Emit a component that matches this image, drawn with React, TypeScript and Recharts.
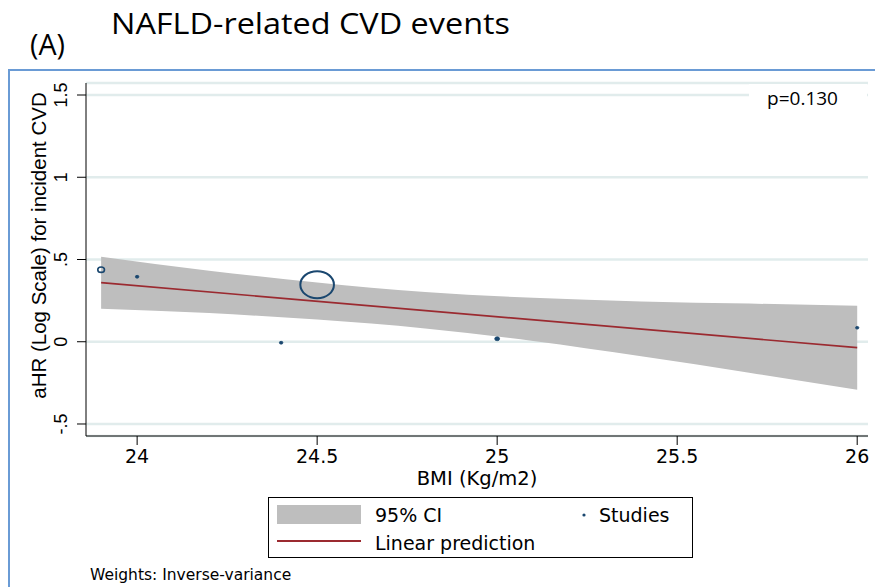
import React from 'react';
import { ComposedChart, Area, Line, Scatter, XAxis, YAxis, ZAxis, CartesianGrid } from 'recharts';

// 95% CI band of the meta-regression prediction
const bandBmi = [23.9, 24.2, 24.5, 24.8, 25.1, 25.4, 25.7, 26.0];
const ciLower = [0.201, 0.174, 0.135, 0.081, 0.005, -0.088, -0.188, -0.292];
const ciUpper = [0.517, 0.432, 0.360, 0.302, 0.267, 0.245, 0.232, 0.219];

// Linear prediction
const fitBmi = [23.9, 26.0];
const fitPred = [0.359, -0.036];

// Individual studies (inverse-variance weights)
const studyBmi = [23.9, 24.0, 24.4, 24.5, 25.0, 26.0];
const studyLogHR = [0.438, 0.395, -0.006, 0.347, 0.018, 0.085];
const studyWeight = [4, 1.1, 1.1, 100, 2.1, 1.0];

// Axes
const xTicks = [24, 24.5, 25, 25.5, 26];
const xTickLabels = ['24', '24.5', '25', '25.5', '26'];
const yTicks = [-0.5, 0, 0.5, 1, 1.5];
const yTickLabels = ['-.5', '0', '.5', '1', '1.5'];

const bandData = bandBmi.map((b, i) => ({ bmi: b, ci: [ciLower[i], ciUpper[i]] }));
const fitData = fitBmi.map((b, i) => ({ bmi: b, pred: fitPred[i] }));
const studyData = studyBmi.map((b, i) => ({ bmi: b, loghr: studyLogHR[i], w: studyWeight[i] }));

const NAVY = '#1a476f';
const STATA_FONT = '"DejaVu Sans", "Liberation Sans", Arial, sans-serif';
const ARIAL = '"Liberation Sans", Arial, sans-serif';
const SLIDE_FONT = '"Open Sans", sans-serif';

const YTick = (props: any) => {
  const { x, y, payload } = props;
  const idx = yTicks.indexOf(payload.value);
  const tx = x - 8;
  return (
    <text x={tx} y={y} transform={`rotate(-90, ${tx}, ${y})`} textAnchor="middle"
      fontFamily={ARIAL} fontSize={18} fill="#000">
      {idx >= 0 ? yTickLabels[idx] : payload.value}
    </text>
  );
};

const XTick = (props: any) => {
  const { x, y, payload } = props;
  const idx = xTicks.indexOf(payload.value);
  return (
    <text x={x} y={y + 16} textAnchor="middle" fontFamily={STATA_FONT} fontSize={19} fill="#000">
      {idx >= 0 ? xTickLabels[idx] : payload.value}
    </text>
  );
};

const StudyShape = (props: any) => {
  const { cx, cy, width } = props;
  if (cx == null || cy == null) return null;
  const r = (width || 2) / 2;
  const rx = r * 1.12;
  const ry = r * 0.9;
  if (r < 2.5) {
    return <ellipse cx={cx} cy={cy} rx={rx} ry={ry} fill={NAVY} stroke={NAVY} strokeWidth={0.8} />;
  }
  return <ellipse cx={cx} cy={cy} rx={rx} ry={ry} fill="none" stroke={NAVY} strokeWidth={r > 10 ? 2 : 1.6} />;
};

const XLabel = (props: any) => {
  const { viewBox } = props;
  return (
    <text x={viewBox.x + viewBox.width / 2} y={viewBox.y + 49} textAnchor="middle"
      fontFamily={STATA_FONT} fontSize={19.5} fill="#000">BMI (Kg/m2)</text>
  );
};

const YLabel = (props: any) => {
  const { viewBox } = props;
  const x = viewBox.x + 10;
  const y = viewBox.y + viewBox.height / 2 - 14;
  return (
    <text x={x} y={y} transform={`rotate(-90, ${x}, ${y})`} textAnchor="middle"
      fontFamily={ARIAL} fontSize={20.5} fill="#000">aHR (Log Scale) for incident CVD</text>
  );
};

export default function App() {
  return (
    <div style={{ position: 'absolute', left: 0, top: 0, width: 875, height: 587, background: '#fff', overflow: 'hidden' }}>
      <ComposedChart width={875} height={587} margin={{ top: 83, right: 7, bottom: 121, left: 36 }}>
        <CartesianGrid horizontal={true} vertical={false} stroke="#e1ecec" strokeWidth={2.5} />
        <XAxis dataKey="bmi" type="number" domain={[23.858, 26.03]} ticks={xTicks} allowDataOverflow
          height={30} tickSize={9} tick={<XTick />} axisLine={{ stroke: '#000' }} tickLine={{ stroke: '#000' }}
          label={<XLabel />} />
        <YAxis type="number" domain={[-0.573, 1.573]} ticks={yTicks} allowDataOverflow width={50}
          tickSize={9} tick={<YTick />} axisLine={{ stroke: '#000' }} tickLine={{ stroke: '#000' }}
          label={<YLabel />} />
        <ZAxis dataKey="w" type="number" domain={[0, 100]} range={[0, 707]} />
        <Area data={bandData} dataKey="ci" type="monotone" fill="#bebebe" fillOpacity={1} stroke="none"
          isAnimationActive={false} />
        <Line data={fitData} dataKey="pred" type="linear" stroke="#9b2a30" strokeWidth={1.7} dot={false}
          activeDot={false} isAnimationActive={false} />
        <Scatter data={studyData} dataKey="loghr" shape={<StudyShape />} isAnimationActive={false} />
      </ComposedChart>
      <svg width={875} height={587} style={{ position: 'absolute', left: 0, top: 0, pointerEvents: 'none' }}>
        <rect x={9} y={70} width={900} height={560} fill="none" stroke="#6a9bd5" strokeWidth={2} />
        <text x={111} y={34} fontFamily={SLIDE_FONT} fontSize={29} textLength={399}
          lengthAdjust="spacingAndGlyphs" fill="#000">NAFLD-related CVD events</text>
        <text x={30} y={55} fontFamily={SLIDE_FONT} fontSize={29} textLength={35}
          lengthAdjust="spacingAndGlyphs" fill="#000">(A)</text>
        <rect x={749} y={84} width={118} height={26} fill="#fff" />
        <text x={767} y={105} fontFamily={SLIDE_FONT} fontSize={18} textLength={71}
          lengthAdjust="spacingAndGlyphs" fill="#000">p=0.130</text>
        <rect x={268.5} y={497.5} width={424} height={60} fill="#fff" stroke="#000" strokeWidth={1} />
        <rect x={277} y={505} width={84} height={19} fill="#bebebe" />
        <text x={375} y={522} fontFamily={STATA_FONT} fontSize={19} fill="#000">95% CI</text>
        <circle cx={584} cy={515} r={1.6} fill={NAVY} />
        <text x={599} y={522} fontFamily={STATA_FONT} fontSize={19} fill="#000">Studies</text>
        <line x1={277} x2={361} y1={541} y2={541} stroke="#9b2a30" strokeWidth={2} />
        <text x={375} y={550} fontFamily={STATA_FONT} fontSize={19} fill="#000">Linear prediction</text>
        <text x={90} y={580} fontFamily={STATA_FONT} fontSize={15.5} fill="#000">Weights: Inverse-variance</text>
      </svg>
    </div>
  );
}
